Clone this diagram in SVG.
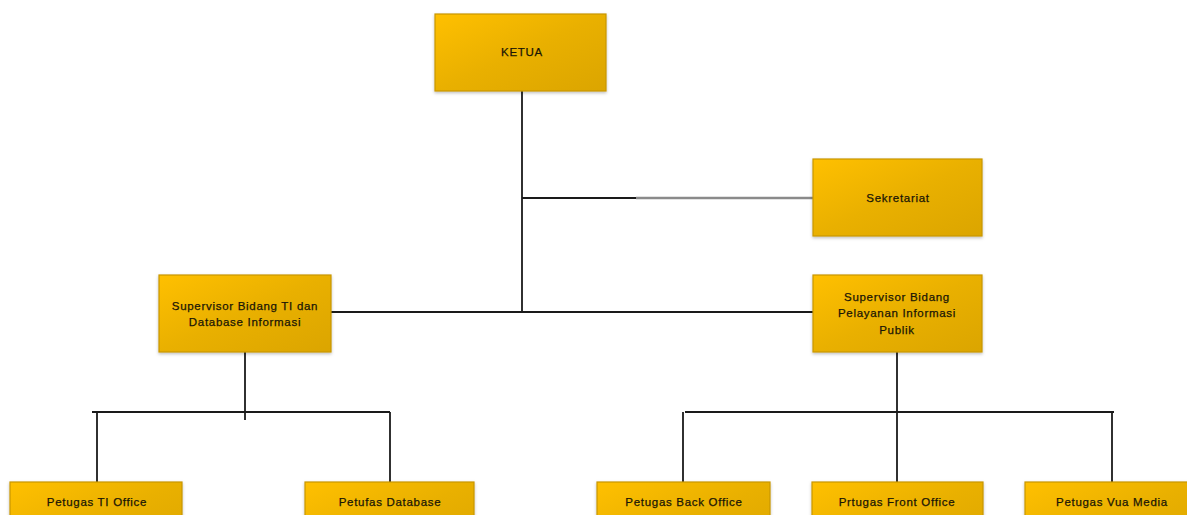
<svg xmlns="http://www.w3.org/2000/svg" width="1187" height="515" viewBox="0 0 1187 515">
<defs>
<linearGradient id="g" x1="0" y1="0" x2="1" y2="1">
<stop offset="0" stop-color="#FFC000"/>
<stop offset="0.5" stop-color="#E9B000"/>
<stop offset="1" stop-color="#DBA500"/>
</linearGradient>
<filter id="sh" x="-10%" y="-10%" width="120%" height="130%">
<feDropShadow dx="0" dy="1.5" stdDeviation="1.5" flood-color="#000" flood-opacity="0.25"/>
</filter>
</defs>
<style>
.box{fill:url(#g);stroke:#C99700;stroke-width:1.2;filter:url(#sh)}
.t{font-family:"Liberation Sans",Arial,sans-serif;font-size:11.5px;fill:#1a1606;stroke:#1a1606;stroke-width:0.25;text-anchor:middle;letter-spacing:0.7px}
.ln{stroke:#1a1a1a;stroke-width:1.8;fill:none}
.gl{stroke:#8a8a8a;stroke-width:2.4;fill:none}
</style>
<rect width="1187" height="515" fill="#fff"/>
<g id="connectors">
<path class="ln" d="M522 91V312"/>
<path class="ln" d="M331 312H813"/>
<path class="ln" d="M522 198H636"/>
<path class="gl" d="M636 198H813"/>
<path class="ln" d="M245 352V420"/>
<path class="ln" d="M92 412H390"/>
<path class="ln" d="M97 412V482"/>
<path class="ln" d="M390 412V482"/>
<path class="ln" d="M897 352V482"/>
<path class="ln" d="M685 412H1114"/>
<path class="ln" d="M683 412V482"/>
<path class="ln" d="M1112 412V482"/>
</g>
<g id="ketua"><rect class="box" x="435" y="14" width="171" height="77"/><text class="t" x="522" y="56">KETUA</text></g>
<g id="sekretariat"><rect class="box" x="813" y="159" width="169" height="77"/><text class="t" x="898" y="202">Sekretariat</text></g>
<g id="sup-ti"><rect class="box" x="159" y="275" width="172" height="77"/><text class="t" x="245" y="310">Supervisor Bidang TI dan</text><text class="t" x="245" y="326">Database Informasi</text></g>
<g id="sup-pelayanan"><rect class="box" x="813" y="275" width="169" height="77"/><text class="t" x="897" y="301">Supervisor Bidang</text><text class="t" x="897" y="317">Pelayanan Informasi</text><text class="t" x="897" y="334">Publik</text></g>
<g id="ti-office"><rect class="box" x="10" y="482" width="172" height="77"/><text class="t" x="97" y="506">Petugas TI Office</text></g>
<g id="database"><rect class="box" x="305" y="482" width="169" height="77"/><text class="t" x="390" y="506">Petufas Database</text></g>
<g id="back-office"><rect class="box" x="597" y="482" width="173" height="77"/><text class="t" x="684" y="506">Petugas Back Office</text></g>
<g id="front-office"><rect class="box" x="812" y="482" width="171" height="77"/><text class="t" x="897" y="506">Prtugas Front Office</text></g>
<g id="vua-media"><rect class="box" x="1025" y="482" width="172" height="77"/><text class="t" x="1112" y="506">Petugas Vua Media</text></g>
</svg>
